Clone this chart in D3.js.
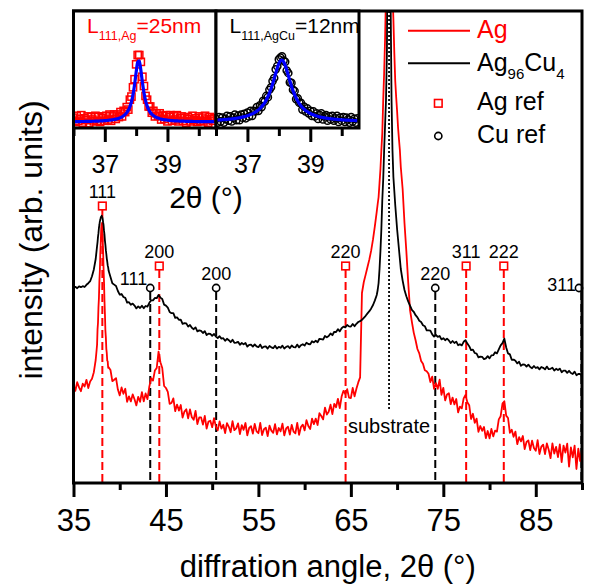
<!DOCTYPE html>
<html><head><meta charset="utf-8">
<script src="https://cdn.jsdelivr.net/npm/d3@7"></script>
<style>
body{margin:0;background:#fff}
svg{display:block}
text{font-family:"Liberation Sans",Arial,Helvetica,sans-serif}
</style>
</head><body>
<svg id="chart" width="590" height="586"></svg>
<script>
// ---------------- DATA ----------------
// measurement grid of the main pattern: [start 2θ, step, number of points]
const angleSegments = [[35.0,0.2,13],[37.5,0.05,27],[39.0,0.2,145],[67.9,0.1,26],[70.6,0.2,98]];

// Ag film (arb. units)
const agIntensity = [
// 35.0 - 37.4
49.2,46.1,50.4,47.8,45.9,49.7,48.2,51.6,47.5,50.8,52.1,55.4,61.5,
// 37.50 - 38.80
66.5,69.2,76.8,80.1,87.9,92.4,100.8,106.1,114.7,120.3,127.6,129.5,128.4,122.6,116.5,107.4,100.6,91.3,84.5,76.2,72.8,67.1,64.9,61.2,60.8,57.6,57.9,
// 39.0 - 67.8
56.5,50.9,51.6,52.4,46.7,43.8,47.8,44.6,47.1,40.6,
43.3,40.8,44.3,41.9,38.8,43.1,40.6,45.4,40.8,44.8,
41.9,48.2,52.4,51.2,56.2,57.5,65.7,60.4,57.5,48.5,
47.5,45.6,39.6,40.0,42.3,35.9,39.2,36.2,39.0,32.7,
35.7,36.9,32.3,36.8,32.9,31.6,36.0,29.5,32.8,32.8,
29.2,33.5,27.2,30.7,31.1,27.9,32.4,28.2,26.3,30.8,
27.2,29.1,25.0,29.9,28.1,25.4,30.9,26.4,27.3,29.8,
24.5,28.9,26.6,30.0,23.8,27.5,28.4,24.7,29.5,25.8,
24.9,30.0,24.0,26.9,27.7,23.5,28.7,26.2,25.1,29.4,
24.3,27.5,25.8,29.7,23.8,27.3,28.1,24.2,29.1,25.7,
24.8,30.1,24.1,28.0,29.2,26.3,31.4,28.5,27.0,32.2,
29.4,32.2,29.0,34.9,33.5,31.8,37.7,34.2,35.6,39.2,
34.5,39.6,37.9,42.1,37.5,43.2,46.1,44.5,46.9,42.7,
42.5,47.5,43.3,47.1,50.3,52.8,95.0,100.5,104.2,108.0,
111.8,116.3,121.9,128.6,135.7,
// 67.9 - 70.4
139.5,143,150,157,166.5,175,191.5,205,222,245,300,450,700,500,350,280,245,232,215,201,193,186,178,172,166.5,158,
// 70.6 - 90.0
147.0,130.0,116.0,100.5,86.5,80.6,75.2,71.4,67.0,64.8,
61.0,59.6,56.4,55.9,54.6,50.5,53.2,47.1,49.9,47.1,
51.7,44.1,47.6,41.3,44.3,44.9,39.4,42.7,39.3,42.0,
35.3,38.2,37.3,42.3,44.0,40.4,38.9,32.0,34.6,30.1,
32.2,25.6,28.5,26.1,28.0,22.4,26.0,22.3,27.0,23.3,
26.2,25.7,31.8,33.4,39.7,40.9,33.7,32.5,25.1,26.6,
23.1,25.7,19.4,22.9,20.8,23.5,17.0,20.5,21.3,16.4,
21.2,17.5,16.1,21.4,14.5,18.2,19.2,14.4,19.8,16.6,
12.4,19.8,14.7,18.1,12.9,19.3,10.4,18.7,15.2,19.7,
8.2,17.8,12.8,18.7,7.0,17.2,10.9,16.8
];

// Ag96Cu4 film (arb. units)
const agcuIntensity = [
// 35.0 - 37.4
97.5,98.1,97.4,98.3,97.9,98.4,98.0,99.1,99.9,100.9,103.4,106.8,112.0,
// 37.50 - 38.80
116.3,118.4,120.4,123.1,124.9,127.5,129.0,130.8,131.6,132.8,133.1,133.6,132.9,132.3,130.4,129.0,126.3,124.2,121.2,119.1,116.4,114.5,112.2,110.7,108.8,107.8,106.1,
// 39.0 - 67.8
103.0,99.9,99.2,98.5,96.0,94.2,94.5,93.0,92.6,90.2,
90.4,89.1,89.7,88.7,87.3,88.3,87.5,88.6,87.4,88.5,
88.2,90.1,91.3,91.3,92.5,92.4,94.0,92.7,92.0,89.2,
88.7,87.7,85.5,84.9,84.9,82.6,82.8,81.6,81.7,79.6,
79.9,79.8,78.2,79.0,77.6,76.9,77.8,75.8,76.3,76.1,
75.0,75.9,74.0,74.7,74.6,73.6,74.5,73.2,72.5,73.4,
72.2,72.4,71.1,72.1,71.4,70.4,71.6,70.1,70.2,70.6,
69.1,70.0,69.3,70.0,68.2,69.1,69.2,68.2,69.3,68.3,
67.9,69.2,67.5,68.2,68.3,67.2,68.5,67.8,67.4,68.6,
67.2,68.1,67.6,68.7,67.2,68.1,68.4,67.4,68.8,67.9,
67.8,69.2,67.8,68.9,69.4,68.7,70.1,69.5,69.3,70.9,
70.3,71.1,70.4,72.1,71.9,71.7,73.5,72.8,73.5,74.8,
73.9,75.6,75.5,76.9,75.8,77.4,78.2,77.8,79.0,78.3,
78.2,79.5,78.4,79.6,80.5,80.9,81.6,82.6,83.6,84.8,
85.9,87.3,89.0,91.3,94.0,
// 67.9 - 70.4
96.5,100,107,116,127,141.5,152,166.5,179,191.5,215,300,600,320,240,191.5,166.5,153,146,139,133,127,122,117,112,107,
// 70.6 - 90.0
101.2,96.5,93.4,90.8,88.7,86.6,85.6,83.9,82.8,81.1,
80.5,78.9,78.4,76.3,76.3,76.2,74.3,73.2,74.0,73.1,
73.5,71.8,72.4,71.4,72.2,71.3,70.0,71.0,70.0,70.7,
68.9,69.4,68.8,70.6,71.4,69.7,68.4,66.4,66.7,65.0,
64.7,62.8,63.2,63.1,61.9,62.3,63.4,62.3,63.8,63.9,
65.4,64.8,66.8,68.8,69.9,72.2,67.8,64.8,64.3,61.6,
61.7,61.1,59.8,60.6,58.6,59.3,59.2,58.2,59.2,58.0,
57.4,58.5,57.5,57.9,56.8,58.0,57.6,56.8,58.2,56.9,
57.1,57.6,56.2,57.1,56.5,57.2,55.4,56.2,56.2,55.1,
56.1,55.0,54.5,55.7,53.9,54.5,54.5,53.2
];

// reference reflections
const agRefAngles = [38.12, 44.28, 64.43, 77.47, 81.54];
const agRefLabels = ["111","200","220","311","222"];
const cuRefAngles = [43.30, 50.43, 74.13, 89.93];
const cuRefLabels = ["111","200","220","311"];
const substrateAngle = 69.13;
const substrateLabel = "substrate";

// main axis ticks
const xMajorTicks = [35,45,55,65,75,85];
const xMinorTicks = [40,50,60,70,80,90];

// inset: 111 reflection, background removed (normalised)
const insetGrid = [36.0, 0.05, 91];
const insetAgData = [
7,0,10,2,5,11,-1,6,3,9,-2,8,4,1,10,2,8,0,6,9,
2,10,4,12,2,9,12,5,12,8,16,9,18,16,24,20,36,41,56,69,
93,108,108,97,73,58,42,36,25,25,15,18,9,14,10,14,4,10,5,11,
1,8,11,2,9,4,11,1,6,9,2,7,-1,8,5,1,10,3,6,0,
9,2,7,1,10,4,-1,8,5,2,6
];
const insetAgFit = [
0.6,0.6,0.7,0.7,0.7,0.8,0.8,0.9,0.9,1.0,1.0,1.1,1.2,1.2,1.3,1.4,1.5,1.7,1.8,2.0,
2.2,2.4,2.6,2.9,3.2,3.6,4.0,4.6,5.3,6.1,7.1,8.4,10.0,12.2,15.1,19.0,24.6,32.6,44.1,60.2,
80.0,96.6,98.5,83.9,64.0,47.0,34.6,26.0,20.0,15.7,12.7,10.4,8.7,7.3,6.3,5.4,4.7,4.1,3.7,3.3,
2.9,2.7,2.4,2.2,2.0,1.8,1.7,1.6,1.5,1.4,1.3,1.2,1.1,1.0,1.0,0.9,0.9,0.8,0.8,0.7,
0.7,0.7,0.6,0.6,0.6,0.5,0.5,0.5,0.5,0.5,0.4
];
const insetAgCuData = [
5,-1,8,1,7,-1,5,10,2,9,1,7,12,3,10,3,12,7,13,6,
15,9,18,10,18,17,24,18,27,24,34,33,42,40,52,56,66,71,85,90,
101,104,106,99,97,83,79,64,63,52,50,37,38,31,31,20,25,17,22,14,
18,10,17,9,14,5,11,14,4,9,11,2,9,4,10,2,6,10,0,7,
2,8,0,7,4,-1,8,1,5,-1,6
];
const insetAgCuFit = [
3.0,3.1,3.3,3.4,3.6,3.8,4.0,4.2,4.5,4.7,5.0,5.3,5.7,6.0,6.5,6.9,7.4,8.0,8.6,9.3,
10.1,11.0,12.0,13.1,14.4,15.9,17.6,19.6,21.9,24.6,27.7,31.4,35.7,40.8,46.7,53.5,61.3,69.8,78.7,87.2,
94.3,98.8,99.9,97.4,91.7,83.9,75.1,66.4,58.1,50.7,44.2,38.6,33.9,29.8,26.4,23.4,20.9,18.7,16.9,15.3,
13.9,12.6,11.6,10.6,9.8,9.0,8.3,7.7,7.2,6.7,6.3,5.9,5.5,5.2,4.9,4.6,4.4,4.1,3.9,3.7,
3.5,3.4,3.2,3.0,2.9,2.8,2.7,2.5,2.4,2.3,2.2
];
const insetMajorTicks = [37,39];
const insetMinorTicks = [36,38,40];

// ---------------- LAYOUT / STYLE ----------------
const RED = "#ff0000", BLUE = "#0000ff", BLACK = "#000";
const plot = {left:73.5, right:582, top:11, bottom:483};
const agMarkLevel = [138.5,108.5,108.5,108.5,108.5];   // marker height (intensity units)
const cuMarkLevel = 97.5;
const cuLabelSide = ["left","above","above","left"];

const svg = d3.select("#chart");
const x = d3.scaleLinear().domain([35,90]).range([plot.left, plot.right]);
const y = d3.scaleLinear().domain([0,236]).range([plot.bottom, plot.top]);

const twoTheta = angleSegments.flatMap(([s,st,n]) => d3.range(n).map(i => +(s+i*st).toFixed(2)));
if (twoTheta.length !== agIntensity.length || twoTheta.length !== agcuIntensity.length)
  console.warn("length mismatch", twoTheta.length, agIntensity.length, agcuIntensity.length);

const defs = svg.append("defs");
defs.append("clipPath").attr("id","clipMain").append("rect")
  .attr("x",plot.left).attr("y",plot.top).attr("width",plot.right-plot.left).attr("height",plot.bottom-plot.top);

// reference lines
const g = svg.append("g");
agRefAngles.forEach((a,i) => {
  g.append("line").attr("x1",x(a)).attr("x2",x(a)).attr("y1",y(agMarkLevel[i])+4).attr("y2",plot.bottom)
    .attr("stroke",RED).attr("stroke-width",2).attr("stroke-dasharray","8,4");
});
cuRefAngles.forEach((a,i) => {
  g.append("line").attr("x1",x(a)).attr("x2",x(a)).attr("y1",y(cuMarkLevel)+4).attr("y2",plot.bottom)
    .attr("stroke",BLACK).attr("stroke-width",2).attr("stroke-dasharray","8,4");
});

// curves
const line = d3.line().x((d,i)=>x(twoTheta[i])).y(d=>y(d));
const curves = svg.append("g").attr("clip-path","url(#clipMain)");
curves.append("path").datum(agIntensity).attr("d",line).attr("fill","none").attr("stroke",RED).attr("stroke-width",1.8).attr("stroke-linejoin","round");
curves.append("path").datum(agcuIntensity).attr("d",line).attr("fill","none").attr("stroke",BLACK).attr("stroke-width",1.8).attr("stroke-linejoin","round");

// substrate
svg.append("line").attr("x1",x(substrateAngle)).attr("x2",x(substrateAngle)).attr("y1",plot.top).attr("y2",410)
  .attr("stroke",BLACK).attr("stroke-width",1.8).attr("stroke-dasharray","2,2");
svg.append("text").attr("x",x(substrateAngle)).attr("y",433).attr("text-anchor","middle")
  .attr("font-size",20).text(substrateLabel);

// markers and labels
agRefAngles.forEach((a,i) => {
  const cx = x(a), cy = y(agMarkLevel[i]);
  svg.append("rect").attr("x",cx-3.8).attr("y",cy-3.8).attr("width",7.6).attr("height",7.6)
    .attr("fill","#fff").attr("stroke",RED).attr("stroke-width",1.6);
  svg.append("text").attr("x",cx).attr("y",cy-8).attr("text-anchor","middle").attr("font-size",18).text(agRefLabels[i]);
});
cuRefAngles.forEach((a,i) => {
  const cx = Math.min(x(a), plot.right-3), cy = y(cuMarkLevel);
  svg.append("circle").attr("cx",cx).attr("cy",cy).attr("r",3.6)
    .attr("fill","#fff").attr("stroke",BLACK).attr("stroke-width",1.6);
  if (cuLabelSide[i]==="left")
    svg.append("text").attr("x",cx-3).attr("y",cy+(i===0?-3:3)).attr("text-anchor","end").attr("font-size",18).text(cuRefLabels[i]);
  else
    svg.append("text").attr("x",cx).attr("y",cy-8).attr("text-anchor","middle").attr("font-size",18).text(cuRefLabels[i]);
});

// frame
svg.append("rect").attr("x",plot.left).attr("y",plot.top).attr("width",plot.right-plot.left).attr("height",plot.bottom-plot.top)
  .attr("fill","none").attr("stroke",BLACK).attr("stroke-width",3);

// x axis
function styleAxis(sel){
  sel.select(".domain").remove();
  sel.selectAll(".tick line").attr("stroke",BLACK).attr("stroke-width",3);
}
const axMaj = svg.append("g").attr("transform",`translate(0,${plot.bottom})`)
  .call(d3.axisBottom(x).tickValues(xMajorTicks).tickSize(14).tickFormat(d3.format("d")));
styleAxis(axMaj);
axMaj.selectAll(".tick text").attr("y",48).attr("dy",null).attr("font-size",31)
  .attr("font-family","'Liberation Sans',Arial,sans-serif").attr("fill",BLACK);
const axMin = svg.append("g").attr("transform",`translate(0,${plot.bottom})`)
  .call(d3.axisBottom(x).tickValues(xMinorTicks).tickSize(7).tickFormat(""));
styleAxis(axMin);

svg.append("text").attr("x",(plot.left+plot.right)/2).attr("y",577).attr("text-anchor","middle")
  .attr("font-size",31).text("diffration angle, 2θ (°)");
svg.append("text").attr("transform","translate(42,240) rotate(-90)").attr("text-anchor","middle")
  .attr("font-size",32).text("intensity (arb. units)");

// ---------------- INSET ----------------
const inset = {top:11, bottom:128};
const yIn = d3.scaleLinear().domain([0,100]).range([122,60]);
const insetAngles = d3.range(insetGrid[2]).map(i => +(insetGrid[0]+i*insetGrid[1]).toFixed(2));

function panel(id, x0, x1, data, fit, kind, color, labelText){
  const xs = d3.scaleLinear().domain([36,40.55]).range([x0,x1]);
  svg.append("rect").attr("x",x0).attr("y",inset.top).attr("width",x1-x0).attr("height",inset.bottom-inset.top).attr("fill","#fff");
  defs.append("clipPath").attr("id",id).append("rect")
    .attr("x",x0).attr("y",inset.top).attr("width",x1-x0).attr("height",inset.bottom-inset.top);
  const pg = svg.append("g").attr("clip-path",`url(#${id})`);
  data.forEach((v,i) => {
    const px = xs(insetAngles[i]), py = yIn(v);
    if (kind==="square")
      pg.append("rect").attr("x",px-3.6).attr("y",py-3.6).attr("width",7.2).attr("height",7.2)
        .attr("fill","none").attr("stroke",color).attr("stroke-width",1.5);
    else
      pg.append("circle").attr("cx",px).attr("cy",py).attr("r",3.6)
        .attr("fill","none").attr("stroke",color).attr("stroke-width",1.5);
  });
  pg.append("path").datum(fit).attr("d",d3.line().x((d,i)=>xs(insetAngles[i])).y(d=>yIn(d)).curve(d3.curveMonotoneX))
    .attr("fill","none").attr("stroke",BLUE).attr("stroke-width",3.2);
  svg.append("rect").attr("x",x0).attr("y",inset.top).attr("width",x1-x0).attr("height",inset.bottom-inset.top)
    .attr("fill","none").attr("stroke",BLACK).attr("stroke-width",3);
  const a1 = svg.append("g").attr("transform",`translate(0,${inset.bottom})`)
    .call(d3.axisBottom(xs).tickValues(insetMajorTicks).tickSize(14).tickFormat(d3.format("d")));
  styleAxis(a1);
  a1.selectAll(".tick text").attr("y",45).attr("dy",null).attr("font-size",25)
    .attr("font-family","'Liberation Sans',Arial,sans-serif").attr("fill",BLACK);
  const a2 = svg.append("g").attr("transform",`translate(0,${inset.bottom})`)
    .call(d3.axisBottom(xs).tickValues(insetMinorTicks).tickSize(8).tickFormat(""));
  styleAxis(a2);
  const t = svg.append("text").attr("x",x0+13.5).attr("y",33).attr("font-size",21).attr("fill",color);
  t.append("tspan").text("L");
  t.append("tspan").attr("font-size",12.5).attr("dy",7).text(labelText[0]);
  t.append("tspan").attr("dy",-7).text(labelText[1]);
}
panel("clipIn1", 73.5, 216, insetAgData, insetAgFit, "square", RED, ["111,Ag","=25nm"]);
panel("clipIn2", 216, 359, insetAgCuData, insetAgCuFit, "circle", BLACK, ["111,AgCu","=12nm"]);
svg.append("text").attr("x",206).attr("y",208).attr("text-anchor","middle").attr("font-size",30).text("2θ (°)");

// ---------------- LEGEND ----------------
const lg = svg.append("g");
lg.append("line").attr("x1",408).attr("x2",470).attr("y1",30.7).attr("y2",30.7).attr("stroke",RED).attr("stroke-width",2);
lg.append("text").attr("x",477).attr("y",38).attr("font-size",25).attr("fill",RED).text("Ag");
lg.append("line").attr("x1",408).attr("x2",470).attr("y1",63.3).attr("y2",63.3).attr("stroke",BLACK).attr("stroke-width",2);
const t2 = lg.append("text").attr("x",477).attr("y",71).attr("font-size",25).attr("fill",BLACK);
t2.append("tspan").text("Ag");
t2.append("tspan").attr("font-size",15).attr("dy",8).text("96");
t2.append("tspan").attr("dy",-8).text("Cu");
t2.append("tspan").attr("font-size",15).attr("dy",8).text("4");
lg.append("rect").attr("x",438.3-3.8).attr("y",103.3-3.8).attr("width",7.6).attr("height",7.6)
  .attr("fill","none").attr("stroke",RED).attr("stroke-width",1.6);
lg.append("text").attr("x",477).attr("y",110).attr("font-size",25).text("Ag ref");
lg.append("circle").attr("cx",438.3).attr("cy",136).attr("r",3.6).attr("fill","none").attr("stroke",BLACK).attr("stroke-width",1.6);
lg.append("text").attr("x",477).attr("y",143).attr("font-size",25).text("Cu ref");
</script>
</body></html>
